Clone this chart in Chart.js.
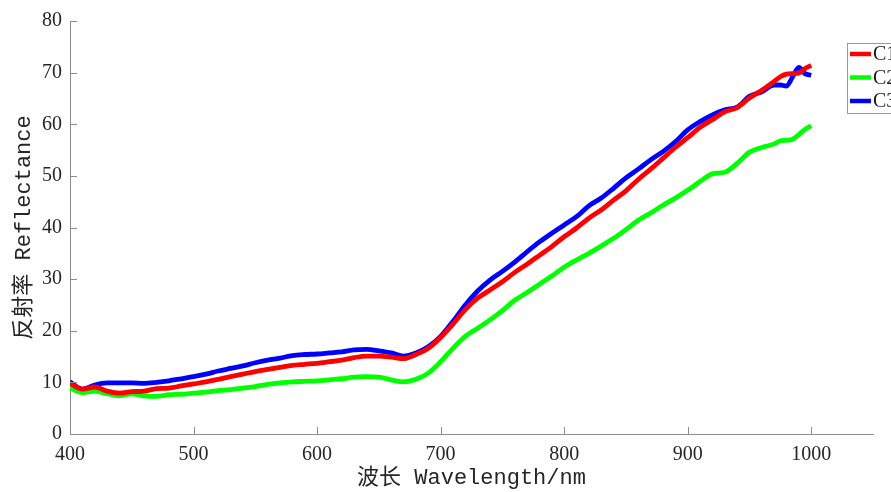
<!DOCTYPE html>
<html>
<head>
<meta charset="utf-8">
<script src="https://cdn.jsdelivr.net/npm/chart.js@4/dist/chart.umd.min.js"></script>
<style>
html,body{margin:0;padding:0;background:#fff;overflow:hidden;}
#wrap{width:891px;height:492px;position:relative;}
</style>
</head>
<body>
<div id="wrap"><canvas id="c" width="891" height="492"></canvas></div>
<script>
const wavelengths = [400,410,420,430,440,450,460,470,480,490,500,510,520,530,540,550,560,570,580,590,600,610,620,630,640,650,660,670,680,690,700,710,720,730,740,750,760,770,780,790,800,810,820,830,840,850,860,870,880,890,900,910,920,930,940,950,960,970,975,980,985,990,995,1000];

const seriesNames = ['C1','C2','C3'];
const seriesColors = ['#ff0000','#00ff00','#0000ff'];

const c1 = [9.8,8.7,9.1,8.3,7.9,8.2,8.3,8.8,8.9,9.3,9.7,10.1,10.6,11.1,11.6,12.1,12.5,12.9,13.3,13.5,13.7,14.0,14.3,14.8,15.1,15.1,14.9,14.6,15.4,16.6,18.7,21.3,24.1,26.3,27.9,29.5,31.3,32.9,34.6,36.3,38.2,39.9,41.8,43.4,45.3,47.1,49.3,51.3,53.4,55.5,57.4,59.4,60.9,62.4,63.2,65.1,66.6,68.3,69.2,69.7,69.8,69.9,70.8,71.4];

const c2 = [8.9,8.0,8.3,7.8,7.4,7.8,7.4,7.3,7.6,7.7,7.9,8.1,8.4,8.6,8.9,9.2,9.6,9.9,10.1,10.2,10.3,10.5,10.7,11.0,11.1,11.0,10.5,10.1,10.6,11.8,14.0,16.6,18.9,20.5,22.1,23.9,25.9,27.4,29.0,30.6,32.3,33.7,35.0,36.4,37.9,39.6,41.4,42.8,44.3,45.7,47.2,48.9,50.4,50.7,52.4,54.6,55.5,56.2,56.8,56.9,57.1,58.0,59.0,59.7];

const c3 = [10.1,8.7,9.5,9.9,9.9,9.9,9.8,10.0,10.3,10.7,11.1,11.6,12.2,12.7,13.2,13.8,14.3,14.7,15.2,15.4,15.5,15.7,15.9,16.3,16.4,16.1,15.7,15.1,15.7,16.9,18.9,21.8,25.0,27.7,29.8,31.5,33.3,35.3,37.2,38.9,40.5,42.1,44.2,45.7,47.6,49.6,51.3,53.1,54.7,56.6,58.9,60.5,61.8,62.8,63.3,65.4,66.3,67.6,67.6,67.4,69.2,71.0,69.8,69.5];

const xTicks = [400,500,600,700,800,900,1000];
const yTicks = [0,10,20,30,40,50,60,70,80];

const xTitle = '波长 Wavelength/nm';
const yTitle = '反射率 Reflectance';

const allSeries = [c1, c2, c3];

const axisColor = '#8c8c8c';
const tickFont = {family: "'Liberation Serif', 'DejaVu Serif', serif", size: 20};
const titleFont = {family: "'Liberation Mono', 'Noto Sans CJK SC', monospace", size: 22};

const innerTicks = {
  id: 'innerTicks',
  afterDraw(chart) {
    const ctx = chart.ctx;
    const xs = chart.scales.x, ys = chart.scales.y;
    const area = chart.chartArea;
    ctx.save();
    ctx.strokeStyle = axisColor;
    ctx.lineWidth = 1;
    ctx.beginPath();
    xTicks.forEach(v => {
      const px = Math.round(xs.getPixelForValue(v)) + 0.5;
      ctx.moveTo(px, area.bottom);
      ctx.lineTo(px, area.bottom - 7);
    });
    yTicks.forEach(v => {
      const py = Math.round(ys.getPixelForValue(v)) + 0.5;
      ctx.moveTo(area.left, py);
      ctx.lineTo(area.left + 7, py);
    });
    ctx.stroke();
    ctx.restore();
  }
};

const boxLegend = {
  id: 'boxLegend',
  afterDraw(chart) {
    const ctx = chart.ctx;
    const x0 = 847, y0 = 43, w = 60, h = 70;
    ctx.save();
    ctx.fillStyle = '#ffffff';
    ctx.fillRect(x0, y0, w, h);
    ctx.strokeStyle = '#9a9a9a';
    ctx.lineWidth = 1;
    ctx.strokeRect(x0 + 0.5, y0 + 0.5, w, h);
    ctx.font = "20px 'Liberation Serif', 'DejaVu Serif', serif";
    ctx.textBaseline = 'middle';
    ctx.textAlign = 'left';
    seriesNames.forEach((name, i) => {
      const y = 54 + i * 23.5;
      ctx.strokeStyle = seriesColors[i];
      ctx.lineWidth = 4.5;
      ctx.beginPath();
      ctx.moveTo(850, y);
      ctx.lineTo(871, y);
      ctx.stroke();
      ctx.fillStyle = '#1a1a1a';
      ctx.fillText(name, 873, y + 1);
    });
    ctx.restore();
  }
};

new Chart(document.getElementById('c'), {
  type: 'line',
  data: {
    datasets: allSeries.map((s, i) => ({
      label: seriesNames[i],
      data: wavelengths.map((w, j) => ({x: w, y: s[j]})),
      borderColor: seriesColors[i],
      backgroundColor: seriesColors[i],
      borderWidth: 4.8,
      pointRadius: 0,
      tension: 0.4,
      cubicInterpolationMode: 'monotone',
      fill: false
    }))
  },
  options: {
    responsive: false,
    animation: false,
    events: [],
    layout: {padding: {left: 0, right: 18, top: 21, bottom: 0}},
    plugins: {legend: {display: false}, tooltip: {enabled: false}},
    scales: {
      x: {
        type: 'linear',
        min: 400, max: 1050,
        afterFit(scale) { scale.height = 58; },
        afterBuildTicks(scale) { scale.ticks = xTicks.map(v => ({value: v})); },
        grid: {display: true, drawOnChartArea: false, drawTicks: false},
        border: {display: true, color: axisColor, width: 1},
        ticks: {color: '#262626', font: tickFont, padding: 9, maxRotation: 0, callback: v => String(v)},
        title: {display: true, text: xTitle, color: '#262626', font: titleFont, padding: {top: 0, bottom: 1}}
      },
      y: {
        type: 'linear',
        min: 0, max: 80,
        afterFit(scale) { scale.width = 70; },
        afterBuildTicks(scale) { scale.ticks = yTicks.map(v => ({value: v})); },
        grid: {display: true, drawOnChartArea: false, drawTicks: false},
        border: {display: true, color: axisColor, width: 1},
        ticks: {color: '#262626', font: tickFont, padding: 8, callback: v => String(v)},
        title: {display: true, text: yTitle, color: '#262626', font: titleFont, padding: {top: 11, bottom: 0}}
      }
    }
  },
  plugins: [innerTicks, boxLegend]
});
</script>
</body>
</html>
